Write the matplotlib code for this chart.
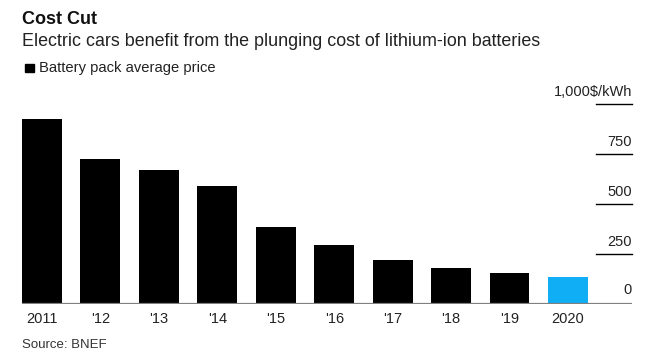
import matplotlib
matplotlib.use("Agg")
import matplotlib.pyplot as plt

plt.rcParams['font.family'] = ['Liberation Sans', 'DejaVu Sans']

years = ["2011", "'12", "'13", "'14", "'15", "'16", "'17", "'18", "'19", "2020"]
prices = [924, 726, 668, 592, 384, 295, 221, 181, 157, 137]
colors = ["#000000"] * 9 + ["#10aef5"]
yticks = [250, 500, 750, 1000]
ytick_labels = ["250", "500", "750", "1,000$/kWh"]

W, H = 662, 354
fig = plt.figure(figsize=(W / 100, H / 100), dpi=100)

def fx(px):
    return px / W

def fy(py):
    return 1 - py / H

ax = fig.add_axes([fx(22), fy(304), fx(632) - fx(22), fy(104) - fy(304)])
x = list(range(len(years)))
ax.bar(x, prices, width=0.684, color=colors, zorder=2)
ax.set_xlim(-0.342, 10.096)
ax.set_ylim(0, 1000)
ax.axis('off')
ax.axhline(0, color="#808080", lw=1.6, zorder=3)

for t, lab in zip(yticks, ytick_labels):
    ax.plot([0.941, 1.0], [t, t], transform=ax.get_yaxis_transform(), color="black", lw=1.0, clip_on=False)
    ax.text(1.0, t + 62, lab, transform=ax.get_yaxis_transform(), ha='right', va='center', fontsize=10.5, color="#222222")
ax.text(1.0, 70, "0", transform=ax.get_yaxis_transform(), ha='right', va='center', fontsize=10.5, color="#222222")

for xi, lab in zip(x, years):
    ax.text(xi, -75, lab, ha='center', va='center', fontsize=10.5, color="#222222", clip_on=False)

fig.text(fx(22), fy(20), "Cost Cut", fontsize=13, fontweight='bold', ha='left', va='center', color="#111111")
fig.text(fx(22), fy(42), "Electric cars benefit from the plunging cost of lithium-ion batteries", fontsize=12.9, ha='left', va='center', color="#222222")
fig.patches.append(plt.Rectangle((fx(25), fy(72)), fx(9), fy(64) - fy(72), transform=fig.transFigure, color='black'))
fig.text(fx(39), fy(68), "Battery pack average price", fontsize=10.6, ha='left', va='center', color="#222222")
fig.text(fx(22), fy(345), "Source: BNEF", fontsize=9.5, ha='left', va='center', color="#333333")

fig.savefig("out.png", dpi=100)
